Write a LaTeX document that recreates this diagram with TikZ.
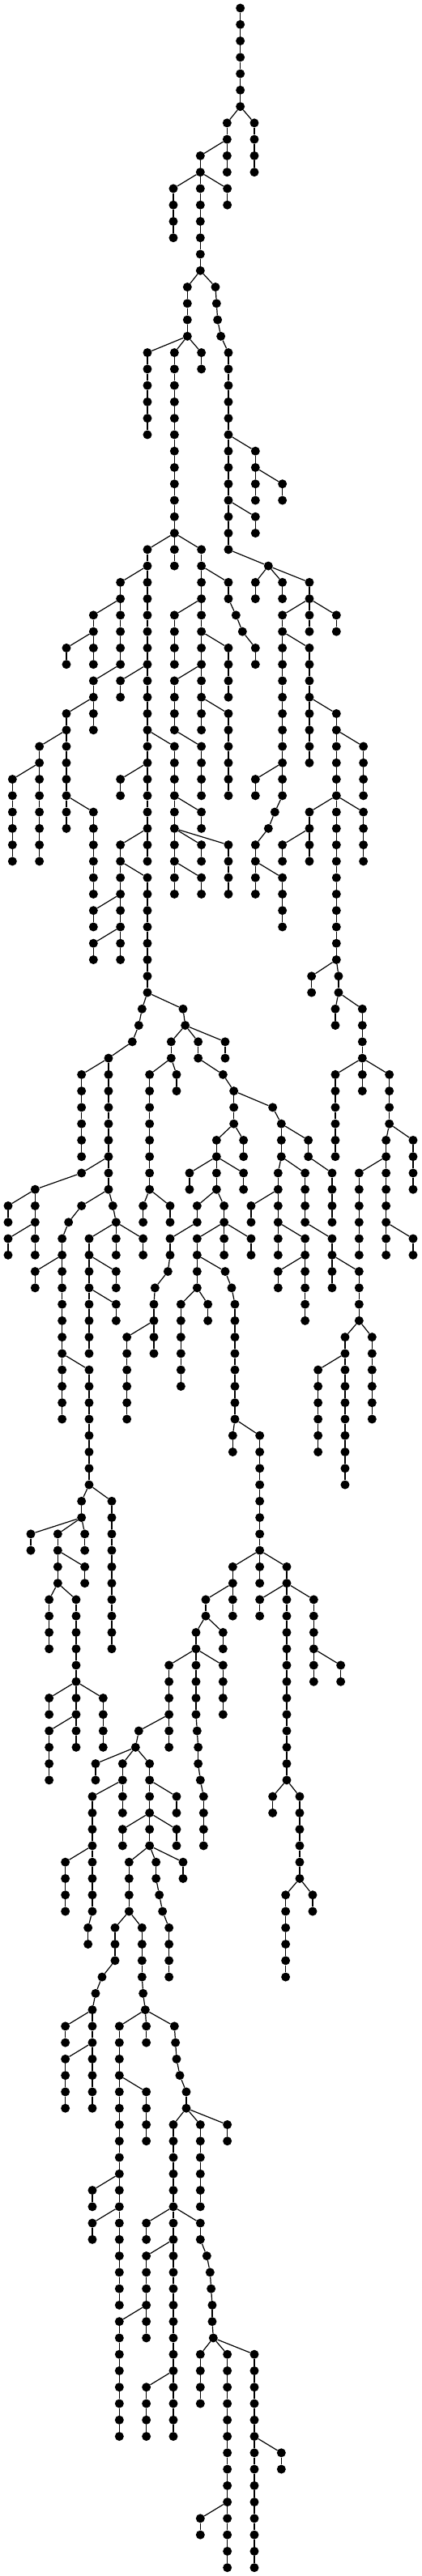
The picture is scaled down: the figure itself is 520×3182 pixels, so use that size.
\documentclass[tikz,border=0pt]{standalone}
\tikzset{
  nd/.style={circle,fill=black,inner sep=0pt,minimum size=11pt},
  ed/.style={draw=black,line width=1.2pt}
}
% #1 parent level, #2 parent x, #3 x of the new chain, #4 number of nodes
\newcommand\Ch[4]{%
  \foreach \i in {1,...,#4}{%
    \edef\lv{\the\numexpr #1+\i\relax}%
    \edef\pv{\the\numexpr #1+\i-1\relax}%
    \node[nd] (v\lv x#3) at ([yshift=-10pt]#3,\lv) {};
    \ifnum\i=1
      \draw[ed] (v#1x#2) -- (v\lv x#3);
    \else
      \draw[ed] (v\pv x#3) -- (v\lv x#3);
    \fi
  }%
}
\begin{document}
\begin{tikzpicture}[x=0.33333pt,y=-20.267pt]
\path[use as bounding box] (0pt,0pt) rectangle (520pt,-3182pt);
\node[nd] (v0x890) at ([yshift=-10pt]890,0) {};
\Ch{0}{890}{890}{6}
\Ch{6}{890}{942}{4}
\Ch{6}{890}{841}{4}
\Ch{8}{841}{742}{8}
\Ch{10}{742}{642}{4}
\Ch{10}{742}{842}{2}
\Ch{16}{742}{694}{4}
\Ch{16}{742}{798}{1}
\Ch{17}{798}{802}{1}
\Ch{18}{802}{806}{1}
\Ch{19}{806}{818}{1}
\Ch{20}{818}{846}{13}
\Ch{20}{694}{546}{6}
\Ch{20}{694}{646}{12}
\Ch{20}{694}{746}{2}
\Ch{32}{646}{546}{20}
\Ch{32}{646}{646}{2}
\Ch{32}{646}{746}{8}
\Ch{26}{846}{946}{4}
\Ch{28}{946}{1046}{2}
\Ch{30}{846}{946}{2}
\Ch{33}{846}{994}{1}
\Ch{34}{994}{946}{2}
\Ch{34}{994}{1046}{2}
\Ch{34}{994}{1146}{2}
\Ch{36}{1146}{1046}{12}
\Ch{36}{1146}{1146}{2}
\Ch{36}{1146}{1246}{2}
\Ch{38}{1046}{1146}{8}
\Ch{42}{1146}{1246}{6}
\Ch{44}{1246}{1346}{4}
\Ch{48}{1246}{1146}{4}
\Ch{48}{1246}{1246}{10}
\Ch{48}{1246}{1346}{4}
\Ch{50}{1146}{1046}{2}
\Ch{46}{1046}{946}{2}
\Ch{48}{1046}{1018}{1}
\Ch{49}{1018}{994}{1}
\Ch{50}{994}{946}{4}
\Ch{52}{946}{1046}{4}
\Ch{58}{1246}{1154}{2}
\Ch{58}{1246}{1254}{2}
\Ch{60}{1254}{1242}{2}
\Ch{60}{1254}{1342}{4}
\Ch{64}{1342}{1242}{6}
\Ch{64}{1342}{1342}{2}
\Ch{64}{1342}{1442}{4}
\Ch{68}{1442}{1430}{8}
\Ch{68}{1442}{1530}{4}
\Ch{70}{1430}{1330}{6}
\Ch{74}{1430}{1530}{2}
\Ch{34}{546}{446}{6}
\Ch{36}{446}{346}{4}
\Ch{38}{346}{246}{2}
\Ch{40}{446}{346}{4}
\Ch{42}{346}{246}{8}
\Ch{44}{246}{146}{8}
\Ch{46}{146}{46}{6}
\Ch{48}{246}{346}{6}
\Ch{40}{546}{446}{2}
\Ch{44}{546}{646}{10}
\Ch{46}{546}{446}{2}
\Ch{50}{546}{446}{8}
\Ch{52}{446}{546}{8}
\Ch{54}{446}{346}{2}
\Ch{56}{446}{346}{2}
\Ch{48}{646}{746}{2}
\Ch{50}{646}{746}{2}
\Ch{50}{646}{846}{4}
\Ch{52}{646}{746}{2}
\Ch{34}{746}{846}{2}
\Ch{36}{846}{874}{1}
\Ch{37}{874}{898}{1}
\Ch{38}{898}{946}{2}
\Ch{36}{746}{646}{4}
\Ch{38}{746}{846}{4}
\Ch{40}{746}{646}{4}
\Ch{40}{746}{746}{4}
\Ch{42}{746}{846}{6}
\Ch{44}{646}{746}{4}
\Ch{60}{546}{526}{1}
\Ch{61}{526}{514}{1}
\Ch{62}{514}{490}{1}
\Ch{63}{490}{402}{1}
\Ch{64}{402}{302}{6}
\Ch{64}{402}{402}{8}
\Ch{70}{402}{302}{1}
\Ch{71}{302}{130}{1}
\Ch{72}{130}{30}{2}
\Ch{72}{130}{130}{4}
\Ch{74}{130}{30}{2}
\Ch{72}{402}{302}{1}
\Ch{73}{302}{254}{1}
\Ch{74}{254}{230}{12}
\Ch{76}{230}{130}{2}
\Ch{82}{230}{330}{8}
\Ch{90}{330}{302}{2}
\Ch{90}{330}{414}{10}
\Ch{92}{302}{114}{2}
\Ch{92}{302}{214}{4}
\Ch{92}{302}{314}{2}
\Ch{94}{214}{314}{2}
\Ch{96}{214}{182}{4}
\Ch{96}{214}{282}{10}
\Ch{102}{282}{182}{2}
\Ch{102}{282}{382}{4}
\Ch{104}{282}{182}{4}
\Ch{72}{402}{418}{1}
\Ch{73}{418}{430}{3}
\Ch{74}{430}{330}{8}
\Ch{74}{430}{530}{2}
\Ch{76}{330}{430}{2}
\Ch{78}{330}{430}{2}
\Ch{60}{546}{678}{1}
\Ch{61}{678}{686}{1}
\Ch{62}{686}{634}{2}
\Ch{62}{686}{734}{2}
\Ch{62}{686}{834}{2}
\Ch{64}{634}{554}{8}
\Ch{64}{634}{654}{2}
\Ch{72}{554}{530}{2}
\Ch{72}{554}{630}{2}
\Ch{64}{734}{826}{1}
\Ch{65}{826}{866}{3}
\Ch{66}{866}{1010}{1}
\Ch{67}{1010}{1042}{3}
\Ch{68}{866}{802}{4}
\Ch{68}{866}{902}{2}
\Ch{70}{802}{702}{2}
\Ch{70}{802}{902}{2}
\Ch{72}{802}{730}{2}
\Ch{72}{802}{830}{4}
\Ch{74}{730}{630}{2}
\Ch{76}{630}{622}{1}
\Ch{77}{622}{574}{1}
\Ch{78}{574}{570}{4}
\Ch{80}{570}{470}{6}
\Ch{74}{830}{730}{4}
\Ch{74}{830}{930}{2}
\Ch{76}{730}{834}{1}
\Ch{77}{834}{858}{1}
\Ch{78}{858}{870}{8}
\Ch{78}{730}{670}{6}
\Ch{78}{730}{770}{2}
\Ch{86}{870}{862}{2}
\Ch{86}{870}{962}{8}
\Ch{68}{1042}{1142}{2}
\Ch{70}{1042}{1030}{6}
\Ch{70}{1042}{1130}{4}
\Ch{70}{1142}{1230}{4}
\Ch{72}{1030}{930}{2}
\Ch{74}{1030}{1130}{6}
\Ch{74}{1130}{1230}{4}
\Ch{76}{1130}{1030}{2}
\Ch{76}{1230}{1330}{4}
\Ch{80}{1330}{1278}{10}
\Ch{80}{1330}{1378}{6}
\Ch{82}{1278}{1178}{6}
\Ch{94}{962}{862}{4}
\Ch{94}{962}{962}{2}
\Ch{94}{962}{1062}{14}
\Ch{96}{862}{762}{2}
\Ch{98}{762}{726}{6}
\Ch{98}{762}{826}{2}
\Ch{100}{726}{626}{6}
\Ch{100}{726}{826}{4}
\Ch{104}{726}{730}{1}
\Ch{105}{730}{734}{2}
\Ch{107}{734}{742}{1}
\Ch{108}{742}{754}{4}
\Ch{96}{1062}{962}{2}
\Ch{96}{1062}{1162}{6}
\Ch{100}{1162}{1262}{2}
\Ch{108}{1062}{1010}{2}
\Ch{108}{1062}{1110}{6}
\Ch{114}{1110}{1058}{6}
\Ch{114}{1110}{1158}{2}
\Ch{104}{626}{514}{1}
\Ch{105}{514}{502}{1}
\Ch{106}{502}{354}{2}
\Ch{106}{502}{454}{4}
\Ch{106}{502}{554}{6}
\Ch{108}{454}{342}{8}
\Ch{112}{342}{242}{4}
\Ch{116}{342}{326}{2}
\Ch{108}{554}{654}{2}
\Ch{110}{554}{454}{2}
\Ch{110}{554}{654}{2}
\Ch{112}{554}{478}{4}
\Ch{112}{554}{578}{2}
\Ch{112}{554}{678}{2}
\Ch{114}{578}{590}{1}
\Ch{115}{590}{602}{1}
\Ch{116}{602}{626}{4}
\Ch{116}{478}{426}{3}
\Ch{116}{478}{526}{4}
\Ch{119}{426}{378}{1}
\Ch{120}{378}{354}{1}
\Ch{121}{354}{342}{1}
\Ch{122}{342}{242}{2}
\Ch{122}{342}{342}{6}
\Ch{124}{342}{242}{4}
\Ch{120}{526}{530}{1}
\Ch{121}{530}{538}{1}
\Ch{122}{538}{442}{18}
\Ch{122}{538}{542}{2}
\Ch{122}{538}{646}{1}
\Ch{123}{646}{650}{1}
\Ch{124}{650}{654}{1}
\Ch{125}{654}{666}{1}
\Ch{126}{666}{690}{2}
\Ch{126}{442}{542}{4}
\Ch{128}{690}{642}{6}
\Ch{128}{690}{742}{6}
\Ch{128}{690}{842}{2}
\Ch{132}{442}{342}{2}
\Ch{134}{442}{342}{2}
\Ch{134}{642}{542}{2}
\Ch{134}{642}{642}{14}
\Ch{134}{642}{742}{2}
\Ch{136}{642}{542}{6}
\Ch{140}{542}{442}{8}
\Ch{144}{642}{542}{4}
\Ch{136}{742}{766}{1}
\Ch{137}{766}{778}{1}
\Ch{138}{778}{782}{1}
\Ch{139}{782}{786}{2}
\Ch{141}{786}{790}{1}
\Ch{142}{790}{742}{4}
\Ch{142}{790}{842}{14}
\Ch{142}{790}{942}{14}
\Ch{152}{842}{742}{2}
\Ch{148}{942}{1042}{2}
\end{tikzpicture}
\end{document}
